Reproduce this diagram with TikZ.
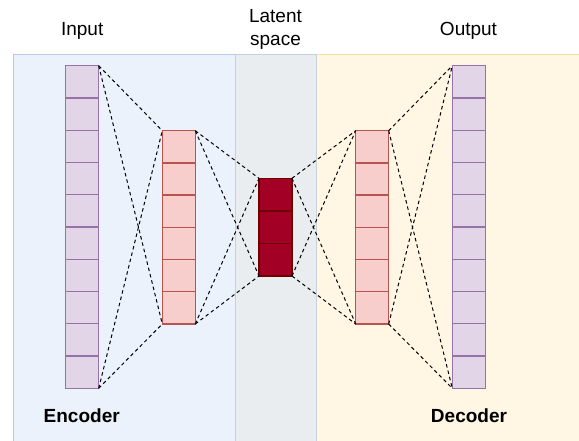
\documentclass[tikz,border=0pt]{standalone}
\usepackage{fontspec}
\setmainfont{Liberation Sans}
\usetikzlibrary{calc}
\definecolor{encbg}{RGB}{235,242,252}
\definecolor{encline}{RGB}{178,202,236}
\definecolor{latbg}{RGB}{233,237,239}
\definecolor{latline}{RGB}{196,208,220}
\definecolor{decbg}{RGB}{255,246,227}
\definecolor{decline}{RGB}{246,224,160}
\definecolor{purfill}{HTML}{E1D5E7}
\definecolor{purline}{HTML}{9673A6}
\definecolor{redfill}{HTML}{F8CECC}
\definecolor{redline}{HTML}{B85450}
\definecolor{latfill}{HTML}{A20025}
\definecolor{latstroke}{HTML}{6F0000}
\tikzset{
  cells/.style 2 args={path picture={
    \pgfmathtruncatemacro\nm{#1-1}
    \foreach \k in {1,...,\nm}{
      \draw[#2,line width=1.3pt]
        ($(path picture bounding box.north west)!\k/#1!(path picture bounding box.south west)$) --
        ($(path picture bounding box.north east)!\k/#1!(path picture bounding box.south east)$);
    }}},
  colbox/.style={rectangle, inner sep=0pt, outer sep=0pt, minimum width=33pt, line width=1.3pt, anchor=north west},
  incol/.style={colbox, fill=purfill, draw=purline, minimum height=322.6pt, cells={10}{purline}},
  hidcol/.style={colbox, fill=redfill, draw=redline, minimum height=193.3pt, cells={6}{redline}},
  latcol/.style={colbox, fill=latfill, draw=latstroke, minimum height=97.7pt, cells={3}{latstroke}},
  region/.style={rectangle, inner sep=0pt, outer sep=0pt, line width=1pt, anchor=north west},
  lbl/.style={inner sep=0pt, font=\fontsize{19}{23}\selectfont, align=center},
  conn/.style={draw=black, line width=1pt, dash pattern=on 3.5pt off 3pt},
}
\begin{document}
\begin{tikzpicture}[x=1pt,y=-1pt]
\useasboundingbox (0,0) rectangle (579,440);
% regions
\node[region, fill=encbg, draw=encline, minimum width=222pt, minimum height=400pt] (enc) at (13,54) {};
\node[region, fill=decbg, draw=decline, minimum width=280pt, minimum height=400pt] (dec) at (316,54) {};
\node[region, fill=latbg, draw=latline, minimum width=81pt, minimum height=400pt] (lat) at (235,54) {};
% columns
\node[incol] (in) at (65.7,65.7) {};
\node[hidcol] (h1) at (162.3,130.7) {};
\node[latcol] (z) at (259,178.3) {};
\node[hidcol] (h2) at (355.7,130.7) {};
\node[incol] (out) at (452.3,65.7) {};
% connectors
\foreach \a/\b in {in/h1, h1/z, z/h2, h2/out}{
  \draw[conn] (\a.north east) -- (\b.north west);
  \draw[conn] (\a.north east) -- (\b.south west);
  \draw[conn] (\a.south east) -- (\b.north west);
  \draw[conn] (\a.south east) -- (\b.south west);
}
% labels
\node[lbl, anchor=base] (tin) at (82.2,35) {Input};
\node[lbl, anchor=base] (tlat) at (275.5,45.5) {Latent\\space};
\node[lbl, anchor=base] (tout) at (468.5,35) {Output};
\node[lbl, anchor=base, font=\fontsize{19}{23}\selectfont\bfseries] (tenc) at (81.7,422) {Encoder};
\node[lbl, anchor=base, font=\fontsize{19}{23}\selectfont\bfseries] (tdec) at (469,422) {Decoder};
\end{tikzpicture}
\end{document}
